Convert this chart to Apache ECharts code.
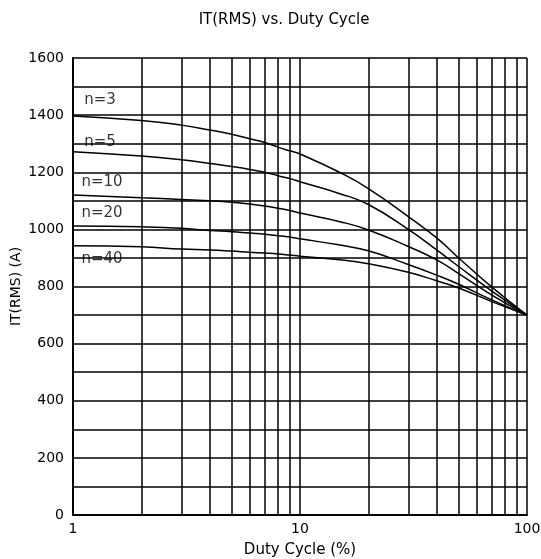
<!DOCTYPE html>
<html>
<head>
<meta charset="utf-8">
<script src="https://cdn.jsdelivr.net/npm/echarts@6/dist/echarts.min.js"></script>
<style>html,body{margin:0;padding:0;background:#fff}#c{width:541px;height:559px}</style>
</head>
<body>
<div id="c"></div>
<script>
var dutyCycle = [1, 2, 3, 4, 5, 6, 7, 8, 9, 10, 15, 20, 30, 40, 50, 70, 100];
var n3  = [1397, 1381, 1365, 1348, 1333, 1317, 1304, 1288, 1275, 1264, 1199, 1143, 1045, 970, 900, 798, 700];
var n5  = [1272, 1257, 1244, 1231, 1220, 1210, 1200, 1188, 1178, 1167, 1125, 1087, 1000, 928, 870, 784, 700];
var n10 = [1120, 1111, 1105, 1100, 1095, 1089, 1082, 1074, 1066, 1057, 1027, 998, 940, 893, 845, 770, 700];
var n20 = [1012, 1009, 1004, 996, 992, 987, 983, 978, 973, 967, 945, 925, 877, 840, 808, 753, 700];
var n40 = [943, 939, 931, 928, 924, 920, 917, 914, 910, 906, 894, 880, 850, 820, 795, 747, 700];
var seriesNames = ['n=3', 'n=5', 'n=10', 'n=20', 'n=40'];
var seriesValues = [n3, n5, n10, n20, n40];
// annotation anchor points (data coordinates) for curve labels
var labelX = [1.12, 1.12, 1.09, 1.09, 1.09];
var labelY = [1453, 1306, 1166, 1057, 896];
var minorGridX = [2, 3, 4, 5, 6, 7, 8, 9, 20, 30, 40, 50, 60, 70, 80, 90];
var xTicks = [1, 10, 100];

var FONT = 'DejaVu Sans';
var chart = echarts.init(document.getElementById('c'));
var series = seriesValues.map(function (vals, i) {
  return {
    name: seriesNames[i],
    type: 'line',
    smooth: 0.5,
    symbol: 'none',
    lineStyle: { color: '#000', width: 1.5 },
    data: dutyCycle.map(function (x, j) { return [x, vals[j]]; }),
    z: 5
  };
});
series.push({
  type: 'line',
  data: [],
  markLine: {
    silent: true,
    symbol: 'none',
    label: { show: false },
    lineStyle: { color: '#000', width: 1.5, type: 'solid' },
    data: minorGridX.map(function (x) { return { xAxis: x }; })
  }
});
series.push({
  type: 'scatter',
  symbolSize: 0,
  silent: true,
  data: seriesNames.map(function (n, i) { return { name: n, value: [labelX[i], labelY[i]] }; }),
  label: {
    show: true, position: 'right', distance: 0,
    formatter: function (p) { return p.name; },
    color: '#000', fontFamily: FONT, fontSize: 15
  },
  z: 10
});

chart.setOption({
  animation: false,
  backgroundColor: '#fff',
  title: {
    text: 'IT(RMS) vs. Duty Cycle',
    left: 279, top: 8, textAlign: 'center',
    textStyle: { fontFamily: FONT, fontSize: 15, fontWeight: 'normal', color: '#000' }
  },
  grid: { left: 73, right: 14, top: 58, bottom: 44, containLabel: false, outerBoundsMode: 'none' },
  xAxis: {
    type: 'log', logBase: 10, min: 1, max: 100,
    name: 'Duty Cycle (%)', nameLocation: 'middle', nameGap: 28, nameMoveOverlap: false,
    nameTextStyle: { fontFamily: FONT, fontSize: 15, color: '#000' },
    axisLine: { lineStyle: { color: '#000', width: 2 } },
    axisTick: { show: false },
    axisLabel: {
      fontFamily: FONT, fontSize: 14, color: '#000', margin: 7,
      formatter: function (v) { return xTicks.indexOf(v) >= 0 ? String(v) : ''; }
    },
    splitLine: { show: true, lineStyle: { color: '#000', width: 1.5 } }
  },
  yAxis: {
    type: 'value', min: 0, max: 1600, interval: 100,
    name: 'IT(RMS) (A)', nameLocation: 'middle', nameGap: 50, nameRotate: 90, nameMoveOverlap: false,
    nameTextStyle: { fontFamily: FONT, fontSize: 14, color: '#000' },
    axisLine: { show: true, lineStyle: { color: '#000', width: 2 } },
    axisTick: { show: false },
    axisLabel: {
      fontFamily: FONT, fontSize: 14, color: '#000', margin: 9,
      formatter: function (v) { return v % 200 === 0 ? String(v) : ''; }
    },
    splitLine: { show: true, lineStyle: { color: '#000', width: 1.5 } }
  },
  series: series
});
</script>
</body>
</html>
